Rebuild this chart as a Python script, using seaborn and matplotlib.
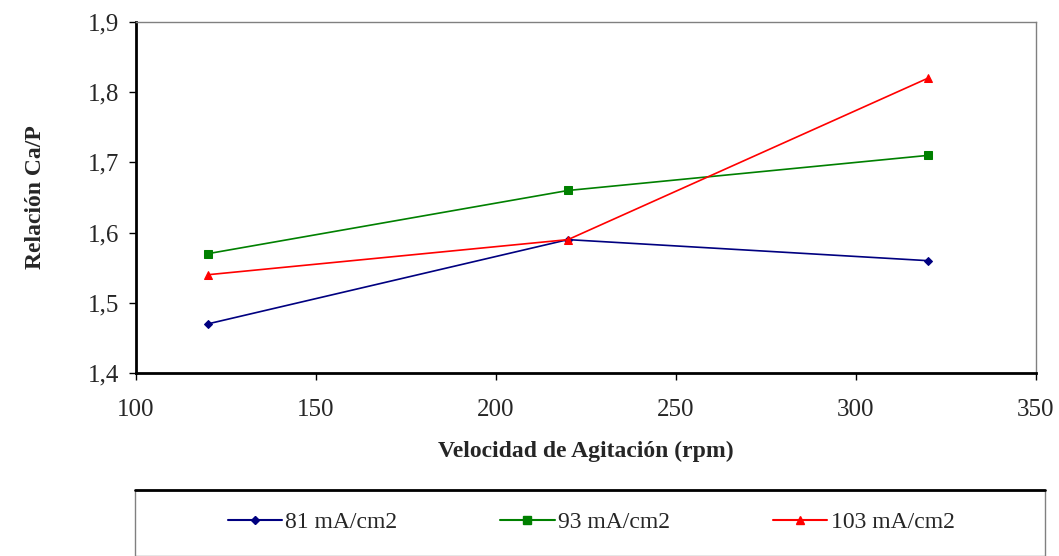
import matplotlib
matplotlib.use("Agg")
import matplotlib.pyplot as plt
from matplotlib.patches import Rectangle
from matplotlib.lines import Line2D
import seaborn as sns
import pandas as pd

velocidad = [120, 220, 320]
serie_81 = [1.47, 1.59, 1.56]
serie_93 = [1.57, 1.66, 1.71]
serie_103 = [1.54, 1.59, 1.82]
etiquetas = ["81 mA/cm2", "93 mA/cm2", "103 mA/cm2"]
colores = ["#000080", "#008000", "#FF0000"]
marcadores = ["D", "s", "^"]
msizes = [4, 6, 6]
xticks = [100, 150, 200, 250, 300, 350]
yticks = [1.4, 1.5, 1.6, 1.7, 1.8, 1.9]

sns.set_style("white")
plt.rcParams['font.family'] = ['Liberation Serif', 'DejaVu Serif']

rows = []
for lab, vals in zip(etiquetas, [serie_81, serie_93, serie_103]):
    for x, y in zip(velocidad, vals):
        rows.append({"vel": x, "ratio": y, "serie": lab})
df = pd.DataFrame(rows)

fig = plt.figure(figsize=(10.59, 5.56), dpi=100)
ax = fig.add_axes([136/1059, 1-373/556, 900/1059, 351/556])

for lab, col, mk, ms in zip(etiquetas, colores, marcadores, msizes):
    sub = df[df["serie"] == lab]
    sns.lineplot(data=sub, x="vel", y="ratio", ax=ax, color=col, marker=mk,
                 markersize=ms, markeredgecolor=col, linewidth=1.2, label=None,
                 legend=False)

ax.set_xlim(100, 350)
ax.set_ylim(1.4, 1.9)
ax.set_xticks(xticks)
ax.set_yticks(yticks)
ax.set_xticklabels([str(v) for v in xticks], fontsize=18)
ax.set_yticklabels([f"{v:.1f}".replace(".", ",") for v in yticks], fontsize=18)
ax.tick_params(axis="both", direction="out", length=5, width=1, color="black",
               left=True, bottom=True)
ax.tick_params(axis="x", pad=14)
ax.tick_params(axis="y", pad=7)
ax.set_xlabel("Velocidad de Agitación (rpm)", fontsize=17, fontweight="bold", labelpad=14)
ax.set_ylabel("Relación Ca/P", fontsize=17, fontweight="bold", labelpad=30)
for side in ["left", "bottom"]:
    ax.spines[side].set_color("black")
    ax.spines[side].set_linewidth(2)
for side in ["top", "right"]:
    ax.spines[side].set_color("#808080")
    ax.spines[side].set_linewidth(1)

# legend frame
fig.patches.append(Rectangle((135/1059, 0), 910/1059, 1-490/556, transform=fig.transFigure,
                             fill=False, edgecolor="#808080", linewidth=1))
fig.lines.append(Line2D([135/1059, 1045/1059], [1-490/556, 1-490/556], transform=fig.transFigure,
                        color="black", linewidth=2))

handles = [Line2D([0], [0], color=c, marker=m, markersize=s, linewidth=1.5, markeredgecolor=c)
           for c, m, s in zip(colores, marcadores, msizes)]
fig.legend(handles, etiquetas, loc="center", bbox_to_anchor=(591/1059, 1-522/556), ncol=3,
           frameon=False, fontsize=17, handlelength=2.3, handletextpad=0.15, columnspacing=4.35)

fig.savefig("out.png", dpi=100)
